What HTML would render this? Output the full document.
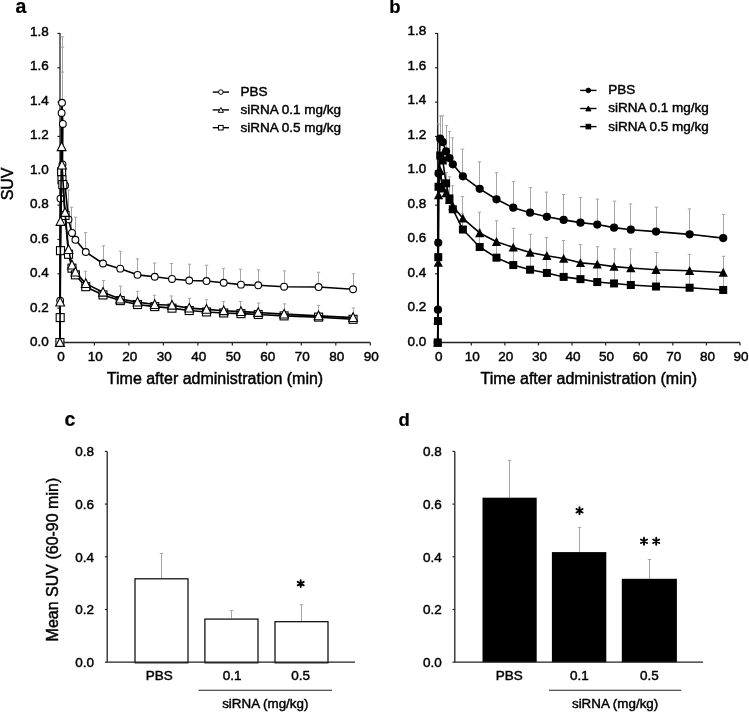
<!DOCTYPE html>
<html><head><meta charset="utf-8"><style>html,body{margin:0;padding:0;background:#fff;width:749px;height:712px;overflow:hidden;position:relative}</style></head><body>
<svg width="749" height="712" viewBox="0 0 749 712" style="position:absolute;left:0;top:0;will-change:transform" font-family='"Liberation Sans", sans-serif' fill="#000">
<rect width="749" height="712" fill="#fff"/>
<style>text{stroke:#000;stroke-width:0.45px;paint-order:normal}</style>
<text x="15.4" y="12.8" font-size="19.5" font-weight="bold" style="stroke-width:0.2px">a</text>
<text x="389.2" y="12.8" font-size="18.5" font-weight="bold" style="stroke-width:0.2px">b</text>
<text x="64.4" y="425.7" font-size="19.5" font-weight="bold" style="stroke-width:0.2px">c</text>
<text x="398.6" y="425.6" font-size="18.5" font-weight="bold" style="stroke-width:0.2px">d</text>
<line x1="60" y1="33" x2="60" y2="342.5" stroke="#222" stroke-width="1.3"/>
<line x1="60" y1="342.5" x2="370.3" y2="342.5" stroke="#222" stroke-width="1.3"/>
<line x1="57.4" y1="342.50" x2="60" y2="342.50" stroke="#222" stroke-width="1.2"/>
<text x="48.8" y="346.35" text-anchor="end" font-size="13.5">0.0</text>
<line x1="57.4" y1="308.16" x2="60" y2="308.16" stroke="#222" stroke-width="1.2"/>
<text x="48.8" y="311.86" text-anchor="end" font-size="13.5">0.2</text>
<line x1="57.4" y1="273.82" x2="60" y2="273.82" stroke="#222" stroke-width="1.2"/>
<text x="48.8" y="277.37" text-anchor="end" font-size="13.5">0.4</text>
<line x1="57.4" y1="239.48" x2="60" y2="239.48" stroke="#222" stroke-width="1.2"/>
<text x="48.8" y="242.88" text-anchor="end" font-size="13.5">0.6</text>
<line x1="57.4" y1="205.14" x2="60" y2="205.14" stroke="#222" stroke-width="1.2"/>
<text x="48.8" y="208.39" text-anchor="end" font-size="13.5">0.8</text>
<line x1="57.4" y1="170.80" x2="60" y2="170.80" stroke="#222" stroke-width="1.2"/>
<text x="48.8" y="173.90" text-anchor="end" font-size="13.5">1.0</text>
<line x1="57.4" y1="136.46" x2="60" y2="136.46" stroke="#222" stroke-width="1.2"/>
<text x="48.8" y="139.41" text-anchor="end" font-size="13.5">1.2</text>
<line x1="57.4" y1="102.12" x2="60" y2="102.12" stroke="#222" stroke-width="1.2"/>
<text x="48.8" y="104.92" text-anchor="end" font-size="13.5">1.4</text>
<line x1="57.4" y1="67.78" x2="60" y2="67.78" stroke="#222" stroke-width="1.2"/>
<text x="48.8" y="70.43" text-anchor="end" font-size="13.5">1.6</text>
<line x1="57.4" y1="33.44" x2="60" y2="33.44" stroke="#222" stroke-width="1.2"/>
<text x="48.8" y="35.94" text-anchor="end" font-size="13.5">1.8</text>
<line x1="59.90" y1="342.5" x2="59.90" y2="345.5" stroke="#222" stroke-width="1.2"/>
<text x="60.90" y="361.3" text-anchor="middle" font-size="13.5">0</text>
<line x1="94.39" y1="342.5" x2="94.39" y2="345.5" stroke="#222" stroke-width="1.2"/>
<text x="95.39" y="361.3" text-anchor="middle" font-size="13.5">10</text>
<line x1="128.88" y1="342.5" x2="128.88" y2="345.5" stroke="#222" stroke-width="1.2"/>
<text x="129.88" y="361.3" text-anchor="middle" font-size="13.5">20</text>
<line x1="163.37" y1="342.5" x2="163.37" y2="345.5" stroke="#222" stroke-width="1.2"/>
<text x="164.37" y="361.3" text-anchor="middle" font-size="13.5">30</text>
<line x1="197.86" y1="342.5" x2="197.86" y2="345.5" stroke="#222" stroke-width="1.2"/>
<text x="198.86" y="361.3" text-anchor="middle" font-size="13.5">40</text>
<line x1="232.34" y1="342.5" x2="232.34" y2="345.5" stroke="#222" stroke-width="1.2"/>
<text x="233.34" y="361.3" text-anchor="middle" font-size="13.5">50</text>
<line x1="266.83" y1="342.5" x2="266.83" y2="345.5" stroke="#222" stroke-width="1.2"/>
<text x="267.83" y="361.3" text-anchor="middle" font-size="13.5">60</text>
<line x1="301.32" y1="342.5" x2="301.32" y2="345.5" stroke="#222" stroke-width="1.2"/>
<text x="302.32" y="361.3" text-anchor="middle" font-size="13.5">70</text>
<line x1="335.81" y1="342.5" x2="335.81" y2="345.5" stroke="#222" stroke-width="1.2"/>
<text x="336.81" y="361.3" text-anchor="middle" font-size="13.5">80</text>
<line x1="370.30" y1="342.5" x2="370.30" y2="345.5" stroke="#222" stroke-width="1.2"/>
<text x="371.30" y="361.3" text-anchor="middle" font-size="13.5">90</text>
<line x1="62.50" y1="36.87" x2="62.50" y2="112.94" stroke="#a6a6a6" stroke-width="1"/>
<line x1="60.80" y1="36.87" x2="64.20" y2="36.87" stroke="#a6a6a6" stroke-width="1"/>
<line x1="62.50" y1="47.18" x2="62.50" y2="102.81" stroke="#a6a6a6" stroke-width="1"/>
<line x1="60.80" y1="47.18" x2="64.20" y2="47.18" stroke="#a6a6a6" stroke-width="1"/>
<line x1="62.50" y1="72.07" x2="62.50" y2="123.93" stroke="#a6a6a6" stroke-width="1"/>
<line x1="60.80" y1="72.07" x2="64.20" y2="72.07" stroke="#a6a6a6" stroke-width="1"/>
<line x1="68.50" y1="190.03" x2="68.50" y2="219.39" stroke="#a6a6a6" stroke-width="1"/>
<line x1="66.80" y1="190.03" x2="70.20" y2="190.03" stroke="#a6a6a6" stroke-width="1"/>
<line x1="71.50" y1="207.20" x2="71.50" y2="232.96" stroke="#a6a6a6" stroke-width="1"/>
<line x1="69.80" y1="207.20" x2="73.20" y2="207.20" stroke="#a6a6a6" stroke-width="1"/>
<line x1="75.50" y1="217.16" x2="75.50" y2="239.82" stroke="#a6a6a6" stroke-width="1"/>
<line x1="73.80" y1="217.16" x2="77.20" y2="217.16" stroke="#a6a6a6" stroke-width="1"/>
<line x1="85.50" y1="232.61" x2="85.50" y2="252.01" stroke="#a6a6a6" stroke-width="1"/>
<line x1="83.80" y1="232.61" x2="87.20" y2="232.61" stroke="#a6a6a6" stroke-width="1"/>
<line x1="103.50" y1="245.83" x2="103.50" y2="263.52" stroke="#a6a6a6" stroke-width="1"/>
<line x1="101.80" y1="245.83" x2="105.20" y2="245.83" stroke="#a6a6a6" stroke-width="1"/>
<line x1="120.50" y1="251.33" x2="120.50" y2="268.67" stroke="#a6a6a6" stroke-width="1"/>
<line x1="118.80" y1="251.33" x2="122.20" y2="251.33" stroke="#a6a6a6" stroke-width="1"/>
<line x1="137.50" y1="258.88" x2="137.50" y2="274.85" stroke="#a6a6a6" stroke-width="1"/>
<line x1="135.80" y1="258.88" x2="139.20" y2="258.88" stroke="#a6a6a6" stroke-width="1"/>
<line x1="154.50" y1="263.00" x2="154.50" y2="276.74" stroke="#a6a6a6" stroke-width="1"/>
<line x1="152.80" y1="263.00" x2="156.20" y2="263.00" stroke="#a6a6a6" stroke-width="1"/>
<line x1="171.50" y1="263.52" x2="171.50" y2="278.97" stroke="#a6a6a6" stroke-width="1"/>
<line x1="169.80" y1="263.52" x2="173.20" y2="263.52" stroke="#a6a6a6" stroke-width="1"/>
<line x1="189.50" y1="264.20" x2="189.50" y2="280.52" stroke="#a6a6a6" stroke-width="1"/>
<line x1="187.80" y1="264.20" x2="191.20" y2="264.20" stroke="#a6a6a6" stroke-width="1"/>
<line x1="206.50" y1="265.24" x2="206.50" y2="281.03" stroke="#a6a6a6" stroke-width="1"/>
<line x1="204.80" y1="265.24" x2="208.20" y2="265.24" stroke="#a6a6a6" stroke-width="1"/>
<line x1="223.50" y1="268.33" x2="223.50" y2="282.75" stroke="#a6a6a6" stroke-width="1"/>
<line x1="221.80" y1="268.33" x2="225.20" y2="268.33" stroke="#a6a6a6" stroke-width="1"/>
<line x1="240.50" y1="269.18" x2="240.50" y2="284.64" stroke="#a6a6a6" stroke-width="1"/>
<line x1="238.80" y1="269.18" x2="242.20" y2="269.18" stroke="#a6a6a6" stroke-width="1"/>
<line x1="258.50" y1="269.87" x2="258.50" y2="285.32" stroke="#a6a6a6" stroke-width="1"/>
<line x1="256.80" y1="269.87" x2="260.20" y2="269.87" stroke="#a6a6a6" stroke-width="1"/>
<line x1="284.50" y1="270.90" x2="284.50" y2="286.70" stroke="#a6a6a6" stroke-width="1"/>
<line x1="282.80" y1="270.90" x2="286.20" y2="270.90" stroke="#a6a6a6" stroke-width="1"/>
<line x1="318.50" y1="272.27" x2="318.50" y2="287.04" stroke="#a6a6a6" stroke-width="1"/>
<line x1="316.80" y1="272.27" x2="320.20" y2="272.27" stroke="#a6a6a6" stroke-width="1"/>
<line x1="353.50" y1="273.82" x2="353.50" y2="289.27" stroke="#a6a6a6" stroke-width="1"/>
<line x1="351.80" y1="273.82" x2="355.20" y2="273.82" stroke="#a6a6a6" stroke-width="1"/>
<line x1="85.50" y1="271.24" x2="85.50" y2="283.61" stroke="#a6a6a6" stroke-width="1"/>
<line x1="83.80" y1="271.24" x2="87.20" y2="271.24" stroke="#a6a6a6" stroke-width="1"/>
<line x1="103.50" y1="280.52" x2="103.50" y2="292.19" stroke="#a6a6a6" stroke-width="1"/>
<line x1="101.80" y1="280.52" x2="105.20" y2="280.52" stroke="#a6a6a6" stroke-width="1"/>
<line x1="120.50" y1="286.18" x2="120.50" y2="299.06" stroke="#a6a6a6" stroke-width="1"/>
<line x1="118.80" y1="286.18" x2="122.20" y2="286.18" stroke="#a6a6a6" stroke-width="1"/>
<line x1="137.50" y1="291.33" x2="137.50" y2="302.15" stroke="#a6a6a6" stroke-width="1"/>
<line x1="135.80" y1="291.33" x2="139.20" y2="291.33" stroke="#a6a6a6" stroke-width="1"/>
<line x1="154.50" y1="295.28" x2="154.50" y2="304.55" stroke="#a6a6a6" stroke-width="1"/>
<line x1="152.80" y1="295.28" x2="156.20" y2="295.28" stroke="#a6a6a6" stroke-width="1"/>
<line x1="171.50" y1="295.97" x2="171.50" y2="305.24" stroke="#a6a6a6" stroke-width="1"/>
<line x1="169.80" y1="295.97" x2="173.20" y2="295.97" stroke="#a6a6a6" stroke-width="1"/>
<line x1="189.50" y1="298.37" x2="189.50" y2="308.16" stroke="#a6a6a6" stroke-width="1"/>
<line x1="187.80" y1="298.37" x2="191.20" y2="298.37" stroke="#a6a6a6" stroke-width="1"/>
<line x1="206.50" y1="299.75" x2="206.50" y2="309.36" stroke="#a6a6a6" stroke-width="1"/>
<line x1="204.80" y1="299.75" x2="208.20" y2="299.75" stroke="#a6a6a6" stroke-width="1"/>
<line x1="223.50" y1="301.64" x2="223.50" y2="310.74" stroke="#a6a6a6" stroke-width="1"/>
<line x1="221.80" y1="301.64" x2="225.20" y2="301.64" stroke="#a6a6a6" stroke-width="1"/>
<line x1="240.50" y1="301.64" x2="240.50" y2="311.59" stroke="#a6a6a6" stroke-width="1"/>
<line x1="238.80" y1="301.64" x2="242.20" y2="301.64" stroke="#a6a6a6" stroke-width="1"/>
<line x1="258.50" y1="303.01" x2="258.50" y2="312.45" stroke="#a6a6a6" stroke-width="1"/>
<line x1="256.80" y1="303.01" x2="260.20" y2="303.01" stroke="#a6a6a6" stroke-width="1"/>
<line x1="284.50" y1="303.87" x2="284.50" y2="314.17" stroke="#a6a6a6" stroke-width="1"/>
<line x1="282.80" y1="303.87" x2="286.20" y2="303.87" stroke="#a6a6a6" stroke-width="1"/>
<line x1="318.50" y1="305.41" x2="318.50" y2="315.89" stroke="#a6a6a6" stroke-width="1"/>
<line x1="316.80" y1="305.41" x2="320.20" y2="305.41" stroke="#a6a6a6" stroke-width="1"/>
<line x1="353.50" y1="307.99" x2="353.50" y2="317.60" stroke="#a6a6a6" stroke-width="1"/>
<line x1="351.80" y1="307.99" x2="355.20" y2="307.99" stroke="#a6a6a6" stroke-width="1"/>
<polyline points="59.90,342.50 60.18,300.61 60.49,198.62 61.62,112.94 61.97,102.81 62.83,123.93 62.49,164.45 65.07,185.57 68.52,219.39 71.97,232.96 75.42,239.82 85.77,252.01 103.01,263.52 120.26,268.67 137.50,274.85 154.74,276.74 171.99,278.97 189.23,280.52 206.48,281.03 223.72,282.75 240.97,284.64 258.21,285.32 284.08,286.70 318.57,287.04 353.06,289.27" fill="none" stroke="#000" stroke-width="1.6" stroke-linejoin="round"/>
<circle cx="59.90" cy="342.50" r="3.4" fill="#fff" stroke="#000" stroke-width="1.1"/>
<circle cx="60.18" cy="300.61" r="3.4" fill="#fff" stroke="#000" stroke-width="1.1"/>
<circle cx="60.49" cy="198.62" r="3.4" fill="#fff" stroke="#000" stroke-width="1.1"/>
<circle cx="61.62" cy="112.94" r="3.4" fill="#fff" stroke="#000" stroke-width="1.1"/>
<circle cx="61.97" cy="102.81" r="3.4" fill="#fff" stroke="#000" stroke-width="1.1"/>
<circle cx="62.83" cy="123.93" r="3.4" fill="#fff" stroke="#000" stroke-width="1.1"/>
<circle cx="62.49" cy="164.45" r="3.4" fill="#fff" stroke="#000" stroke-width="1.1"/>
<circle cx="65.07" cy="185.57" r="3.4" fill="#fff" stroke="#000" stroke-width="1.1"/>
<circle cx="68.52" cy="219.39" r="3.4" fill="#fff" stroke="#000" stroke-width="1.1"/>
<circle cx="71.97" cy="232.96" r="3.4" fill="#fff" stroke="#000" stroke-width="1.1"/>
<circle cx="75.42" cy="239.82" r="3.4" fill="#fff" stroke="#000" stroke-width="1.1"/>
<circle cx="85.77" cy="252.01" r="3.4" fill="#fff" stroke="#000" stroke-width="1.1"/>
<circle cx="103.01" cy="263.52" r="3.4" fill="#fff" stroke="#000" stroke-width="1.1"/>
<circle cx="120.26" cy="268.67" r="3.4" fill="#fff" stroke="#000" stroke-width="1.1"/>
<circle cx="137.50" cy="274.85" r="3.4" fill="#fff" stroke="#000" stroke-width="1.1"/>
<circle cx="154.74" cy="276.74" r="3.4" fill="#fff" stroke="#000" stroke-width="1.1"/>
<circle cx="171.99" cy="278.97" r="3.4" fill="#fff" stroke="#000" stroke-width="1.1"/>
<circle cx="189.23" cy="280.52" r="3.4" fill="#fff" stroke="#000" stroke-width="1.1"/>
<circle cx="206.48" cy="281.03" r="3.4" fill="#fff" stroke="#000" stroke-width="1.1"/>
<circle cx="223.72" cy="282.75" r="3.4" fill="#fff" stroke="#000" stroke-width="1.1"/>
<circle cx="240.97" cy="284.64" r="3.4" fill="#fff" stroke="#000" stroke-width="1.1"/>
<circle cx="258.21" cy="285.32" r="3.4" fill="#fff" stroke="#000" stroke-width="1.1"/>
<circle cx="284.08" cy="286.70" r="3.4" fill="#fff" stroke="#000" stroke-width="1.1"/>
<circle cx="318.57" cy="287.04" r="3.4" fill="#fff" stroke="#000" stroke-width="1.1"/>
<circle cx="353.06" cy="289.27" r="3.4" fill="#fff" stroke="#000" stroke-width="1.1"/>
<polyline points="59.90,342.50 60.18,317.60 60.49,250.64 61.62,171.83 61.97,179.73 62.83,184.54 65.07,215.44 68.52,254.25 71.97,268.15 75.42,274.85 85.77,286.70 103.01,294.94 120.26,300.61 137.50,304.55 154.74,306.61 171.99,308.16 189.23,310.56 206.48,311.94 223.72,312.97 240.97,313.65 258.21,314.51 284.08,315.89 318.57,317.09 353.06,319.32" fill="none" stroke="#000" stroke-width="1.6" stroke-linejoin="round"/>
<rect x="55.90" y="338.50" width="8" height="8" fill="#fff" stroke="#000" stroke-width="1.1"/>
<rect x="56.18" y="313.60" width="8" height="8" fill="#fff" stroke="#000" stroke-width="1.1"/>
<rect x="56.49" y="246.64" width="8" height="8" fill="#fff" stroke="#000" stroke-width="1.1"/>
<rect x="57.62" y="167.83" width="8" height="8" fill="#fff" stroke="#000" stroke-width="1.1"/>
<rect x="57.97" y="175.73" width="8" height="8" fill="#fff" stroke="#000" stroke-width="1.1"/>
<rect x="58.83" y="180.54" width="8" height="8" fill="#fff" stroke="#000" stroke-width="1.1"/>
<rect x="61.07" y="211.44" width="8" height="8" fill="#fff" stroke="#000" stroke-width="1.1"/>
<rect x="64.52" y="250.25" width="8" height="8" fill="#fff" stroke="#000" stroke-width="1.1"/>
<rect x="67.97" y="264.15" width="8" height="8" fill="#fff" stroke="#000" stroke-width="1.1"/>
<rect x="71.42" y="270.85" width="8" height="8" fill="#fff" stroke="#000" stroke-width="1.1"/>
<rect x="81.77" y="282.70" width="8" height="8" fill="#fff" stroke="#000" stroke-width="1.1"/>
<rect x="99.01" y="290.94" width="8" height="8" fill="#fff" stroke="#000" stroke-width="1.1"/>
<rect x="116.26" y="296.61" width="8" height="8" fill="#fff" stroke="#000" stroke-width="1.1"/>
<rect x="133.50" y="300.55" width="8" height="8" fill="#fff" stroke="#000" stroke-width="1.1"/>
<rect x="150.74" y="302.61" width="8" height="8" fill="#fff" stroke="#000" stroke-width="1.1"/>
<rect x="167.99" y="304.16" width="8" height="8" fill="#fff" stroke="#000" stroke-width="1.1"/>
<rect x="185.23" y="306.56" width="8" height="8" fill="#fff" stroke="#000" stroke-width="1.1"/>
<rect x="202.48" y="307.94" width="8" height="8" fill="#fff" stroke="#000" stroke-width="1.1"/>
<rect x="219.72" y="308.97" width="8" height="8" fill="#fff" stroke="#000" stroke-width="1.1"/>
<rect x="236.97" y="309.65" width="8" height="8" fill="#fff" stroke="#000" stroke-width="1.1"/>
<rect x="254.21" y="310.51" width="8" height="8" fill="#fff" stroke="#000" stroke-width="1.1"/>
<rect x="280.08" y="311.89" width="8" height="8" fill="#fff" stroke="#000" stroke-width="1.1"/>
<rect x="314.57" y="313.09" width="8" height="8" fill="#fff" stroke="#000" stroke-width="1.1"/>
<rect x="349.06" y="315.32" width="8" height="8" fill="#fff" stroke="#000" stroke-width="1.1"/>
<polyline points="59.90,342.50 60.18,302.15 60.49,221.45 61.62,146.76 61.97,165.13 65.07,212.52 68.52,249.61 71.97,265.06 75.42,272.10 85.77,283.61 103.01,292.19 120.26,299.06 137.50,302.15 154.74,304.55 171.99,305.24 189.23,308.16 206.48,309.36 223.72,310.74 240.97,311.59 258.21,312.45 284.08,314.17 318.57,315.89 353.06,317.60" fill="none" stroke="#000" stroke-width="1.6" stroke-linejoin="round"/>
<polygon points="59.90,337.70 64.30,346.40 55.50,346.40" fill="#fff" stroke="#000" stroke-width="1.1" stroke-linejoin="miter"/>
<polygon points="60.18,297.35 64.58,306.05 55.78,306.05" fill="#fff" stroke="#000" stroke-width="1.1" stroke-linejoin="miter"/>
<polygon points="60.49,216.65 64.89,225.35 56.09,225.35" fill="#fff" stroke="#000" stroke-width="1.1" stroke-linejoin="miter"/>
<polygon points="61.62,141.96 66.02,150.66 57.22,150.66" fill="#fff" stroke="#000" stroke-width="1.1" stroke-linejoin="miter"/>
<polygon points="61.97,160.33 66.37,169.03 57.57,169.03" fill="#fff" stroke="#000" stroke-width="1.1" stroke-linejoin="miter"/>
<polygon points="65.07,207.72 69.47,216.42 60.67,216.42" fill="#fff" stroke="#000" stroke-width="1.1" stroke-linejoin="miter"/>
<polygon points="68.52,244.81 72.92,253.51 64.12,253.51" fill="#fff" stroke="#000" stroke-width="1.1" stroke-linejoin="miter"/>
<polygon points="71.97,260.26 76.37,268.96 67.57,268.96" fill="#fff" stroke="#000" stroke-width="1.1" stroke-linejoin="miter"/>
<polygon points="75.42,267.30 79.82,276.00 71.02,276.00" fill="#fff" stroke="#000" stroke-width="1.1" stroke-linejoin="miter"/>
<polygon points="85.77,278.81 90.17,287.51 81.37,287.51" fill="#fff" stroke="#000" stroke-width="1.1" stroke-linejoin="miter"/>
<polygon points="103.01,287.39 107.41,296.09 98.61,296.09" fill="#fff" stroke="#000" stroke-width="1.1" stroke-linejoin="miter"/>
<polygon points="120.26,294.26 124.66,302.96 115.86,302.96" fill="#fff" stroke="#000" stroke-width="1.1" stroke-linejoin="miter"/>
<polygon points="137.50,297.35 141.90,306.05 133.10,306.05" fill="#fff" stroke="#000" stroke-width="1.1" stroke-linejoin="miter"/>
<polygon points="154.74,299.75 159.14,308.45 150.34,308.45" fill="#fff" stroke="#000" stroke-width="1.1" stroke-linejoin="miter"/>
<polygon points="171.99,300.44 176.39,309.14 167.59,309.14" fill="#fff" stroke="#000" stroke-width="1.1" stroke-linejoin="miter"/>
<polygon points="189.23,303.36 193.63,312.06 184.83,312.06" fill="#fff" stroke="#000" stroke-width="1.1" stroke-linejoin="miter"/>
<polygon points="206.48,304.56 210.88,313.26 202.08,313.26" fill="#fff" stroke="#000" stroke-width="1.1" stroke-linejoin="miter"/>
<polygon points="223.72,305.94 228.12,314.64 219.32,314.64" fill="#fff" stroke="#000" stroke-width="1.1" stroke-linejoin="miter"/>
<polygon points="240.97,306.79 245.37,315.49 236.57,315.49" fill="#fff" stroke="#000" stroke-width="1.1" stroke-linejoin="miter"/>
<polygon points="258.21,307.65 262.61,316.35 253.81,316.35" fill="#fff" stroke="#000" stroke-width="1.1" stroke-linejoin="miter"/>
<polygon points="284.08,309.37 288.48,318.07 279.68,318.07" fill="#fff" stroke="#000" stroke-width="1.1" stroke-linejoin="miter"/>
<polygon points="318.57,311.09 322.97,319.79 314.17,319.79" fill="#fff" stroke="#000" stroke-width="1.1" stroke-linejoin="miter"/>
<polygon points="353.06,312.80 357.46,321.50 348.66,321.50" fill="#fff" stroke="#000" stroke-width="1.1" stroke-linejoin="miter"/>
<line x1="212.7" y1="92.10" x2="229" y2="92.10" stroke="#000" stroke-width="1.4"/>
<circle cx="220.85" cy="92.10" r="2.3" fill="#fff" stroke="#000" stroke-width="1"/>
<text x="240.5" y="96.00" font-size="13.5">PBS</text>
<line x1="212.7" y1="109.90" x2="229" y2="109.90" stroke="#000" stroke-width="1.4"/>
<polygon points="220.85,107.50 223.45,112.30 218.25,112.30" fill="#fff" stroke="#000" stroke-width="1"/>
<text x="240.5" y="113.80" font-size="13.5">siRNA 0.1 mg/kg</text>
<line x1="212.7" y1="127.70" x2="229" y2="127.70" stroke="#000" stroke-width="1.4"/>
<rect x="218.55" y="125.40" width="4.6" height="4.6" fill="#fff" stroke="#000" stroke-width="1"/>
<text x="240.5" y="131.60" font-size="13.5">siRNA 0.5 mg/kg</text>
<line x1="437.6" y1="33" x2="437.6" y2="342.5" stroke="#222" stroke-width="1.3"/>
<line x1="437.6" y1="342.5" x2="740.0" y2="342.5" stroke="#222" stroke-width="1.3"/>
<line x1="435.0" y1="342.50" x2="437.6" y2="342.50" stroke="#222" stroke-width="1.2"/>
<text x="426.40000000000003" y="345.55" text-anchor="end" font-size="13.5">0.0</text>
<line x1="435.0" y1="308.16" x2="437.6" y2="308.16" stroke="#222" stroke-width="1.2"/>
<text x="426.40000000000003" y="311.06" text-anchor="end" font-size="13.5">0.2</text>
<line x1="435.0" y1="273.82" x2="437.6" y2="273.82" stroke="#222" stroke-width="1.2"/>
<text x="426.40000000000003" y="276.57" text-anchor="end" font-size="13.5">0.4</text>
<line x1="435.0" y1="239.48" x2="437.6" y2="239.48" stroke="#222" stroke-width="1.2"/>
<text x="426.40000000000003" y="242.08" text-anchor="end" font-size="13.5">0.6</text>
<line x1="435.0" y1="205.14" x2="437.6" y2="205.14" stroke="#222" stroke-width="1.2"/>
<text x="426.40000000000003" y="207.59" text-anchor="end" font-size="13.5">0.8</text>
<line x1="435.0" y1="170.80" x2="437.6" y2="170.80" stroke="#222" stroke-width="1.2"/>
<text x="426.40000000000003" y="173.10" text-anchor="end" font-size="13.5">1.0</text>
<line x1="435.0" y1="136.46" x2="437.6" y2="136.46" stroke="#222" stroke-width="1.2"/>
<text x="426.40000000000003" y="138.61" text-anchor="end" font-size="13.5">1.2</text>
<line x1="435.0" y1="102.12" x2="437.6" y2="102.12" stroke="#222" stroke-width="1.2"/>
<text x="426.40000000000003" y="104.12" text-anchor="end" font-size="13.5">1.4</text>
<line x1="435.0" y1="67.78" x2="437.6" y2="67.78" stroke="#222" stroke-width="1.2"/>
<text x="426.40000000000003" y="69.63" text-anchor="end" font-size="13.5">1.6</text>
<line x1="435.0" y1="33.44" x2="437.6" y2="33.44" stroke="#222" stroke-width="1.2"/>
<text x="426.40000000000003" y="35.14" text-anchor="end" font-size="13.5">1.8</text>
<line x1="437.70" y1="342.5" x2="437.70" y2="345.5" stroke="#222" stroke-width="1.2"/>
<text x="438.70" y="361.3" text-anchor="middle" font-size="13.5">0</text>
<line x1="471.29" y1="342.5" x2="471.29" y2="345.5" stroke="#222" stroke-width="1.2"/>
<text x="472.29" y="361.3" text-anchor="middle" font-size="13.5">10</text>
<line x1="504.88" y1="342.5" x2="504.88" y2="345.5" stroke="#222" stroke-width="1.2"/>
<text x="505.88" y="361.3" text-anchor="middle" font-size="13.5">20</text>
<line x1="538.47" y1="342.5" x2="538.47" y2="345.5" stroke="#222" stroke-width="1.2"/>
<text x="539.47" y="361.3" text-anchor="middle" font-size="13.5">30</text>
<line x1="572.06" y1="342.5" x2="572.06" y2="345.5" stroke="#222" stroke-width="1.2"/>
<text x="573.06" y="361.3" text-anchor="middle" font-size="13.5">40</text>
<line x1="605.64" y1="342.5" x2="605.64" y2="345.5" stroke="#222" stroke-width="1.2"/>
<text x="606.64" y="361.3" text-anchor="middle" font-size="13.5">50</text>
<line x1="639.23" y1="342.5" x2="639.23" y2="345.5" stroke="#222" stroke-width="1.2"/>
<text x="640.23" y="361.3" text-anchor="middle" font-size="13.5">60</text>
<line x1="672.82" y1="342.5" x2="672.82" y2="345.5" stroke="#222" stroke-width="1.2"/>
<text x="673.82" y="361.3" text-anchor="middle" font-size="13.5">70</text>
<line x1="706.41" y1="342.5" x2="706.41" y2="345.5" stroke="#222" stroke-width="1.2"/>
<text x="707.41" y="361.3" text-anchor="middle" font-size="13.5">80</text>
<line x1="740.00" y1="342.5" x2="740.00" y2="345.5" stroke="#222" stroke-width="1.2"/>
<text x="741.00" y="361.3" text-anchor="middle" font-size="13.5">90</text>
<line x1="440.50" y1="115.86" x2="440.50" y2="138.69" stroke="#a6a6a6" stroke-width="1"/>
<line x1="438.80" y1="115.86" x2="442.20" y2="115.86" stroke="#a6a6a6" stroke-width="1"/>
<line x1="442.50" y1="115.86" x2="442.50" y2="142.13" stroke="#a6a6a6" stroke-width="1"/>
<line x1="440.80" y1="115.86" x2="444.20" y2="115.86" stroke="#a6a6a6" stroke-width="1"/>
<line x1="438.50" y1="124.10" x2="438.50" y2="173.38" stroke="#a6a6a6" stroke-width="1"/>
<line x1="436.80" y1="124.10" x2="440.20" y2="124.10" stroke="#a6a6a6" stroke-width="1"/>
<line x1="446.50" y1="125.81" x2="446.50" y2="151.40" stroke="#a6a6a6" stroke-width="1"/>
<line x1="444.80" y1="125.81" x2="448.20" y2="125.81" stroke="#a6a6a6" stroke-width="1"/>
<line x1="449.50" y1="131.48" x2="449.50" y2="158.09" stroke="#a6a6a6" stroke-width="1"/>
<line x1="447.80" y1="131.48" x2="451.20" y2="131.48" stroke="#a6a6a6" stroke-width="1"/>
<line x1="452.50" y1="137.83" x2="452.50" y2="164.28" stroke="#a6a6a6" stroke-width="1"/>
<line x1="450.80" y1="137.83" x2="454.20" y2="137.83" stroke="#a6a6a6" stroke-width="1"/>
<line x1="462.50" y1="149.17" x2="462.50" y2="176.29" stroke="#a6a6a6" stroke-width="1"/>
<line x1="460.80" y1="149.17" x2="464.20" y2="149.17" stroke="#a6a6a6" stroke-width="1"/>
<line x1="479.50" y1="161.87" x2="479.50" y2="188.83" stroke="#a6a6a6" stroke-width="1"/>
<line x1="477.80" y1="161.87" x2="481.20" y2="161.87" stroke="#a6a6a6" stroke-width="1"/>
<line x1="496.50" y1="172.69" x2="496.50" y2="199.30" stroke="#a6a6a6" stroke-width="1"/>
<line x1="494.80" y1="172.69" x2="498.20" y2="172.69" stroke="#a6a6a6" stroke-width="1"/>
<line x1="513.50" y1="181.62" x2="513.50" y2="207.72" stroke="#a6a6a6" stroke-width="1"/>
<line x1="511.80" y1="181.62" x2="515.20" y2="181.62" stroke="#a6a6a6" stroke-width="1"/>
<line x1="530.50" y1="187.63" x2="530.50" y2="212.69" stroke="#a6a6a6" stroke-width="1"/>
<line x1="528.80" y1="187.63" x2="532.20" y2="187.63" stroke="#a6a6a6" stroke-width="1"/>
<line x1="546.50" y1="192.09" x2="546.50" y2="216.82" stroke="#a6a6a6" stroke-width="1"/>
<line x1="544.80" y1="192.09" x2="548.20" y2="192.09" stroke="#a6a6a6" stroke-width="1"/>
<line x1="563.50" y1="194.49" x2="563.50" y2="219.91" stroke="#a6a6a6" stroke-width="1"/>
<line x1="561.80" y1="194.49" x2="565.20" y2="194.49" stroke="#a6a6a6" stroke-width="1"/>
<line x1="580.50" y1="197.41" x2="580.50" y2="222.65" stroke="#a6a6a6" stroke-width="1"/>
<line x1="578.80" y1="197.41" x2="582.20" y2="197.41" stroke="#a6a6a6" stroke-width="1"/>
<line x1="597.50" y1="199.13" x2="597.50" y2="224.54" stroke="#a6a6a6" stroke-width="1"/>
<line x1="595.80" y1="199.13" x2="599.20" y2="199.13" stroke="#a6a6a6" stroke-width="1"/>
<line x1="614.50" y1="201.19" x2="614.50" y2="227.63" stroke="#a6a6a6" stroke-width="1"/>
<line x1="612.80" y1="201.19" x2="616.20" y2="201.19" stroke="#a6a6a6" stroke-width="1"/>
<line x1="630.50" y1="203.94" x2="630.50" y2="229.69" stroke="#a6a6a6" stroke-width="1"/>
<line x1="628.80" y1="203.94" x2="632.20" y2="203.94" stroke="#a6a6a6" stroke-width="1"/>
<line x1="656.50" y1="207.20" x2="656.50" y2="231.58" stroke="#a6a6a6" stroke-width="1"/>
<line x1="654.80" y1="207.20" x2="658.20" y2="207.20" stroke="#a6a6a6" stroke-width="1"/>
<line x1="689.50" y1="208.92" x2="689.50" y2="234.33" stroke="#a6a6a6" stroke-width="1"/>
<line x1="687.80" y1="208.92" x2="691.20" y2="208.92" stroke="#a6a6a6" stroke-width="1"/>
<line x1="723.50" y1="214.41" x2="723.50" y2="238.11" stroke="#a6a6a6" stroke-width="1"/>
<line x1="721.80" y1="214.41" x2="725.20" y2="214.41" stroke="#a6a6a6" stroke-width="1"/>
<line x1="446.50" y1="172.52" x2="446.50" y2="193.12" stroke="#a6a6a6" stroke-width="1"/>
<line x1="444.80" y1="172.52" x2="448.20" y2="172.52" stroke="#a6a6a6" stroke-width="1"/>
<line x1="449.50" y1="176.81" x2="449.50" y2="199.82" stroke="#a6a6a6" stroke-width="1"/>
<line x1="447.80" y1="176.81" x2="451.20" y2="176.81" stroke="#a6a6a6" stroke-width="1"/>
<line x1="452.50" y1="185.74" x2="452.50" y2="206.17" stroke="#a6a6a6" stroke-width="1"/>
<line x1="450.80" y1="185.74" x2="454.20" y2="185.74" stroke="#a6a6a6" stroke-width="1"/>
<line x1="462.50" y1="196.56" x2="462.50" y2="218.36" stroke="#a6a6a6" stroke-width="1"/>
<line x1="460.80" y1="196.56" x2="464.20" y2="196.56" stroke="#a6a6a6" stroke-width="1"/>
<line x1="479.50" y1="212.18" x2="479.50" y2="232.96" stroke="#a6a6a6" stroke-width="1"/>
<line x1="477.80" y1="212.18" x2="481.20" y2="212.18" stroke="#a6a6a6" stroke-width="1"/>
<line x1="496.50" y1="220.76" x2="496.50" y2="241.71" stroke="#a6a6a6" stroke-width="1"/>
<line x1="494.80" y1="220.76" x2="498.20" y2="220.76" stroke="#a6a6a6" stroke-width="1"/>
<line x1="513.50" y1="228.32" x2="513.50" y2="247.38" stroke="#a6a6a6" stroke-width="1"/>
<line x1="511.80" y1="228.32" x2="515.20" y2="228.32" stroke="#a6a6a6" stroke-width="1"/>
<line x1="530.50" y1="234.33" x2="530.50" y2="252.53" stroke="#a6a6a6" stroke-width="1"/>
<line x1="528.80" y1="234.33" x2="532.20" y2="234.33" stroke="#a6a6a6" stroke-width="1"/>
<line x1="546.50" y1="237.42" x2="546.50" y2="255.79" stroke="#a6a6a6" stroke-width="1"/>
<line x1="544.80" y1="237.42" x2="548.20" y2="237.42" stroke="#a6a6a6" stroke-width="1"/>
<line x1="563.50" y1="240.51" x2="563.50" y2="258.54" stroke="#a6a6a6" stroke-width="1"/>
<line x1="561.80" y1="240.51" x2="565.20" y2="240.51" stroke="#a6a6a6" stroke-width="1"/>
<line x1="580.50" y1="244.63" x2="580.50" y2="262.83" stroke="#a6a6a6" stroke-width="1"/>
<line x1="578.80" y1="244.63" x2="582.20" y2="244.63" stroke="#a6a6a6" stroke-width="1"/>
<line x1="597.50" y1="246.69" x2="597.50" y2="264.20" stroke="#a6a6a6" stroke-width="1"/>
<line x1="595.80" y1="246.69" x2="599.20" y2="246.69" stroke="#a6a6a6" stroke-width="1"/>
<line x1="614.50" y1="248.92" x2="614.50" y2="266.61" stroke="#a6a6a6" stroke-width="1"/>
<line x1="612.80" y1="248.92" x2="616.20" y2="248.92" stroke="#a6a6a6" stroke-width="1"/>
<line x1="630.50" y1="248.92" x2="630.50" y2="267.98" stroke="#a6a6a6" stroke-width="1"/>
<line x1="628.80" y1="248.92" x2="632.20" y2="248.92" stroke="#a6a6a6" stroke-width="1"/>
<line x1="656.50" y1="252.53" x2="656.50" y2="269.70" stroke="#a6a6a6" stroke-width="1"/>
<line x1="654.80" y1="252.53" x2="658.20" y2="252.53" stroke="#a6a6a6" stroke-width="1"/>
<line x1="689.50" y1="254.42" x2="689.50" y2="270.73" stroke="#a6a6a6" stroke-width="1"/>
<line x1="687.80" y1="254.42" x2="691.20" y2="254.42" stroke="#a6a6a6" stroke-width="1"/>
<line x1="723.50" y1="256.31" x2="723.50" y2="272.45" stroke="#a6a6a6" stroke-width="1"/>
<line x1="721.80" y1="256.31" x2="725.20" y2="256.31" stroke="#a6a6a6" stroke-width="1"/>
<line x1="462.50" y1="213.73" x2="462.50" y2="229.52" stroke="#a6a6a6" stroke-width="1"/>
<line x1="460.80" y1="213.73" x2="464.20" y2="213.73" stroke="#a6a6a6" stroke-width="1"/>
<line x1="479.50" y1="229.18" x2="479.50" y2="247.03" stroke="#a6a6a6" stroke-width="1"/>
<line x1="477.80" y1="229.18" x2="481.20" y2="229.18" stroke="#a6a6a6" stroke-width="1"/>
<line x1="496.50" y1="239.48" x2="496.50" y2="257.68" stroke="#a6a6a6" stroke-width="1"/>
<line x1="494.80" y1="239.48" x2="498.20" y2="239.48" stroke="#a6a6a6" stroke-width="1"/>
<line x1="513.50" y1="246.35" x2="513.50" y2="265.06" stroke="#a6a6a6" stroke-width="1"/>
<line x1="511.80" y1="246.35" x2="515.20" y2="246.35" stroke="#a6a6a6" stroke-width="1"/>
<line x1="530.50" y1="251.50" x2="530.50" y2="269.70" stroke="#a6a6a6" stroke-width="1"/>
<line x1="528.80" y1="251.50" x2="532.20" y2="251.50" stroke="#a6a6a6" stroke-width="1"/>
<line x1="546.50" y1="254.93" x2="546.50" y2="272.96" stroke="#a6a6a6" stroke-width="1"/>
<line x1="544.80" y1="254.93" x2="548.20" y2="254.93" stroke="#a6a6a6" stroke-width="1"/>
<line x1="563.50" y1="258.37" x2="563.50" y2="276.91" stroke="#a6a6a6" stroke-width="1"/>
<line x1="561.80" y1="258.37" x2="565.20" y2="258.37" stroke="#a6a6a6" stroke-width="1"/>
<line x1="580.50" y1="261.80" x2="580.50" y2="279.14" stroke="#a6a6a6" stroke-width="1"/>
<line x1="578.80" y1="261.80" x2="582.20" y2="261.80" stroke="#a6a6a6" stroke-width="1"/>
<line x1="597.50" y1="263.52" x2="597.50" y2="282.06" stroke="#a6a6a6" stroke-width="1"/>
<line x1="595.80" y1="263.52" x2="599.20" y2="263.52" stroke="#a6a6a6" stroke-width="1"/>
<line x1="614.50" y1="265.24" x2="614.50" y2="283.44" stroke="#a6a6a6" stroke-width="1"/>
<line x1="612.80" y1="265.24" x2="616.20" y2="265.24" stroke="#a6a6a6" stroke-width="1"/>
<line x1="630.50" y1="266.95" x2="630.50" y2="284.98" stroke="#a6a6a6" stroke-width="1"/>
<line x1="628.80" y1="266.95" x2="632.20" y2="266.95" stroke="#a6a6a6" stroke-width="1"/>
<line x1="656.50" y1="268.67" x2="656.50" y2="286.53" stroke="#a6a6a6" stroke-width="1"/>
<line x1="654.80" y1="268.67" x2="658.20" y2="268.67" stroke="#a6a6a6" stroke-width="1"/>
<line x1="689.50" y1="270.39" x2="689.50" y2="287.73" stroke="#a6a6a6" stroke-width="1"/>
<line x1="687.80" y1="270.39" x2="691.20" y2="270.39" stroke="#a6a6a6" stroke-width="1"/>
<line x1="723.50" y1="272.10" x2="723.50" y2="289.96" stroke="#a6a6a6" stroke-width="1"/>
<line x1="721.80" y1="272.10" x2="725.20" y2="272.10" stroke="#a6a6a6" stroke-width="1"/>
<polyline points="437.70,342.50 437.97,309.71 438.27,242.74 438.54,173.38 440.22,138.69 442.74,142.13 446.10,151.40 449.46,158.09 452.81,164.28 462.89,176.29 479.69,188.83 496.48,199.30 513.27,207.72 530.07,212.69 546.86,216.82 563.66,219.91 580.45,222.65 597.25,224.54 614.04,227.63 630.84,229.69 656.03,231.58 689.62,234.33 723.21,238.11" fill="none" stroke="#000" stroke-width="1.6" stroke-linejoin="round"/>
<circle cx="437.70" cy="342.50" r="4.1" fill="#000"/>
<circle cx="437.97" cy="309.71" r="4.1" fill="#000"/>
<circle cx="438.27" cy="242.74" r="4.1" fill="#000"/>
<circle cx="438.54" cy="173.38" r="4.1" fill="#000"/>
<circle cx="440.22" cy="138.69" r="4.1" fill="#000"/>
<circle cx="442.74" cy="142.13" r="4.1" fill="#000"/>
<circle cx="446.10" cy="151.40" r="4.1" fill="#000"/>
<circle cx="449.46" cy="158.09" r="4.1" fill="#000"/>
<circle cx="452.81" cy="164.28" r="4.1" fill="#000"/>
<circle cx="462.89" cy="176.29" r="4.1" fill="#000"/>
<circle cx="479.69" cy="188.83" r="4.1" fill="#000"/>
<circle cx="496.48" cy="199.30" r="4.1" fill="#000"/>
<circle cx="513.27" cy="207.72" r="4.1" fill="#000"/>
<circle cx="530.07" cy="212.69" r="4.1" fill="#000"/>
<circle cx="546.86" cy="216.82" r="4.1" fill="#000"/>
<circle cx="563.66" cy="219.91" r="4.1" fill="#000"/>
<circle cx="580.45" cy="222.65" r="4.1" fill="#000"/>
<circle cx="597.25" cy="224.54" r="4.1" fill="#000"/>
<circle cx="614.04" cy="227.63" r="4.1" fill="#000"/>
<circle cx="630.84" cy="229.69" r="4.1" fill="#000"/>
<circle cx="656.03" cy="231.58" r="4.1" fill="#000"/>
<circle cx="689.62" cy="234.33" r="4.1" fill="#000"/>
<circle cx="723.21" cy="238.11" r="4.1" fill="#000"/>
<polyline points="437.70,342.50 437.97,321.04 438.27,257.17 438.54,186.77 440.22,155.52 442.74,160.50 446.10,183.33 449.46,198.44 452.81,209.26 462.89,229.52 479.69,247.03 496.48,257.68 513.27,265.06 530.07,269.70 546.86,272.96 563.66,276.91 580.45,279.14 597.25,282.06 614.04,283.44 630.84,284.98 656.03,286.53 689.62,287.73 723.21,289.96" fill="none" stroke="#000" stroke-width="1.6" stroke-linejoin="round"/>
<rect x="433.70" y="338.50" width="8" height="8" fill="#000"/>
<rect x="433.97" y="317.04" width="8" height="8" fill="#000"/>
<rect x="434.27" y="253.17" width="8" height="8" fill="#000"/>
<rect x="434.54" y="182.77" width="8" height="8" fill="#000"/>
<rect x="436.22" y="151.52" width="8" height="8" fill="#000"/>
<rect x="438.74" y="156.50" width="8" height="8" fill="#000"/>
<rect x="442.10" y="179.33" width="8" height="8" fill="#000"/>
<rect x="445.46" y="194.44" width="8" height="8" fill="#000"/>
<rect x="448.81" y="205.26" width="8" height="8" fill="#000"/>
<rect x="458.89" y="225.52" width="8" height="8" fill="#000"/>
<rect x="475.69" y="243.03" width="8" height="8" fill="#000"/>
<rect x="492.48" y="253.68" width="8" height="8" fill="#000"/>
<rect x="509.27" y="261.06" width="8" height="8" fill="#000"/>
<rect x="526.07" y="265.70" width="8" height="8" fill="#000"/>
<rect x="542.86" y="268.96" width="8" height="8" fill="#000"/>
<rect x="559.66" y="272.91" width="8" height="8" fill="#000"/>
<rect x="576.45" y="275.14" width="8" height="8" fill="#000"/>
<rect x="593.25" y="278.06" width="8" height="8" fill="#000"/>
<rect x="610.04" y="279.44" width="8" height="8" fill="#000"/>
<rect x="626.84" y="280.98" width="8" height="8" fill="#000"/>
<rect x="652.03" y="282.53" width="8" height="8" fill="#000"/>
<rect x="685.62" y="283.73" width="8" height="8" fill="#000"/>
<rect x="719.21" y="285.96" width="8" height="8" fill="#000"/>
<polyline points="437.70,342.50 437.97,320.01 438.27,262.66 438.54,195.01 440.22,170.80 442.74,188.31 446.10,193.12 449.46,199.82 452.81,206.17 462.89,218.36 479.69,232.96 496.48,241.71 513.27,247.38 530.07,252.53 546.86,255.79 563.66,258.54 580.45,262.83 597.25,264.20 614.04,266.61 630.84,267.98 656.03,269.70 689.62,270.73 723.21,272.45" fill="none" stroke="#000" stroke-width="1.6" stroke-linejoin="round"/>
<polygon points="437.70,337.80 442.30,346.70 433.10,346.70" fill="#000"/>
<polygon points="437.97,315.31 442.57,324.21 433.37,324.21" fill="#000"/>
<polygon points="438.27,257.96 442.87,266.86 433.67,266.86" fill="#000"/>
<polygon points="438.54,190.31 443.14,199.21 433.94,199.21" fill="#000"/>
<polygon points="440.22,166.10 444.82,175.00 435.62,175.00" fill="#000"/>
<polygon points="442.74,183.61 447.34,192.51 438.14,192.51" fill="#000"/>
<polygon points="446.10,188.42 450.70,197.32 441.50,197.32" fill="#000"/>
<polygon points="449.46,195.12 454.06,204.02 444.86,204.02" fill="#000"/>
<polygon points="452.81,201.47 457.42,210.37 448.21,210.37" fill="#000"/>
<polygon points="462.89,213.66 467.49,222.56 458.29,222.56" fill="#000"/>
<polygon points="479.69,228.26 484.29,237.16 475.09,237.16" fill="#000"/>
<polygon points="496.48,237.01 501.08,245.91 491.88,245.91" fill="#000"/>
<polygon points="513.27,242.68 517.88,251.58 508.67,251.58" fill="#000"/>
<polygon points="530.07,247.83 534.67,256.73 525.47,256.73" fill="#000"/>
<polygon points="546.86,251.09 551.46,259.99 542.26,259.99" fill="#000"/>
<polygon points="563.66,253.84 568.26,262.74 559.06,262.74" fill="#000"/>
<polygon points="580.45,258.13 585.05,267.03 575.85,267.03" fill="#000"/>
<polygon points="597.25,259.50 601.85,268.40 592.65,268.40" fill="#000"/>
<polygon points="614.04,261.91 618.64,270.81 609.44,270.81" fill="#000"/>
<polygon points="630.84,263.28 635.44,272.18 626.24,272.18" fill="#000"/>
<polygon points="656.03,265.00 660.63,273.90 651.43,273.90" fill="#000"/>
<polygon points="689.62,266.03 694.22,274.93 685.02,274.93" fill="#000"/>
<polygon points="723.21,267.75 727.81,276.65 718.61,276.65" fill="#000"/>
<line x1="580.2" y1="90.40" x2="596.5" y2="90.40" stroke="#000" stroke-width="1.4"/>
<circle cx="588.35" cy="90.40" r="2.3" fill="#000" stroke="#000" stroke-width="1"/>
<text x="608.3" y="94.30" font-size="13.5">PBS</text>
<line x1="580.2" y1="108.50" x2="596.5" y2="108.50" stroke="#000" stroke-width="1.4"/>
<polygon points="588.35,106.10 590.95,110.90 585.75,110.90" fill="#000" stroke="#000" stroke-width="1"/>
<text x="608.3" y="112.40" font-size="13.5">siRNA 0.1 mg/kg</text>
<line x1="580.2" y1="126.60" x2="596.5" y2="126.60" stroke="#000" stroke-width="1.4"/>
<rect x="586.05" y="124.30" width="4.6" height="4.6" fill="#000" stroke="#000" stroke-width="1"/>
<text x="608.3" y="130.50" font-size="13.5">siRNA 0.5 mg/kg</text>
<text x="215" y="384.3" text-anchor="middle" font-size="16">Time after administration (min)</text>
<text x="588.8" y="384.3" text-anchor="middle" font-size="16">Time after administration (min)</text>
<text transform="translate(13.2,183.9) rotate(-90)" text-anchor="middle" font-size="16">SUV</text>
<text transform="translate(57.7,559.6) rotate(-90)" text-anchor="middle" font-size="16">Mean SUV (60-90 min)</text>
<line x1="104.9" y1="662.20" x2="107.2" y2="662.20" stroke="#222" stroke-width="1.2"/>
<text x="94.10000000000001" y="667.00" text-anchor="end" font-size="13.5">0.0</text>
<line x1="104.9" y1="609.50" x2="107.2" y2="609.50" stroke="#222" stroke-width="1.2"/>
<text x="94.10000000000001" y="614.30" text-anchor="end" font-size="13.5">0.2</text>
<line x1="104.9" y1="556.80" x2="107.2" y2="556.80" stroke="#222" stroke-width="1.2"/>
<text x="94.10000000000001" y="561.60" text-anchor="end" font-size="13.5">0.4</text>
<line x1="104.9" y1="504.10" x2="107.2" y2="504.10" stroke="#222" stroke-width="1.2"/>
<text x="94.10000000000001" y="508.90" text-anchor="end" font-size="13.5">0.6</text>
<line x1="104.9" y1="451.40" x2="107.2" y2="451.40" stroke="#222" stroke-width="1.2"/>
<text x="94.10000000000001" y="456.20" text-anchor="end" font-size="13.5">0.8</text>
<line x1="161.50" y1="553.5" x2="161.50" y2="578.2" stroke="#a6a6a6" stroke-width="1"/>
<line x1="159.80" y1="553.5" x2="163.20" y2="553.5" stroke="#a6a6a6" stroke-width="1"/>
<rect x="135.0" y="578.8000000000001" width="52.999999999999986" height="84.0" fill="#fff" stroke="#000" stroke-width="1.2"/>
<line x1="231.50" y1="610.5" x2="231.50" y2="618.5" stroke="#a6a6a6" stroke-width="1"/>
<line x1="229.80" y1="610.5" x2="233.20" y2="610.5" stroke="#a6a6a6" stroke-width="1"/>
<rect x="204.9" y="619.1" width="53.10000000000001" height="43.700000000000045" fill="#fff" stroke="#000" stroke-width="1.2"/>
<line x1="301.50" y1="604.7" x2="301.50" y2="621.1" stroke="#a6a6a6" stroke-width="1"/>
<line x1="299.80" y1="604.7" x2="303.20" y2="604.7" stroke="#a6a6a6" stroke-width="1"/>
<rect x="275.0" y="621.7" width="53.00000000000004" height="41.10000000000002" fill="#fff" stroke="#000" stroke-width="1.2"/>
<line x1="107.2" y1="451.4" x2="107.2" y2="662.2" stroke="#222" stroke-width="1.3"/>
<line x1="107.2" y1="662.2" x2="355" y2="662.2" stroke="#222" stroke-width="1.3"/>
<text x="159.3" y="680.3" text-anchor="middle" font-size="13.5">PBS</text>
<text x="232.1" y="680.3" text-anchor="middle" font-size="13.5">0.1</text>
<text x="300.6" y="680.3" text-anchor="middle" font-size="13.5">0.5</text>
<line x1="198.5" y1="690.2" x2="332.1" y2="690.2" stroke="#222" stroke-width="1.1"/>
<text x="265.3" y="707.5" text-anchor="middle" font-size="13.4">siRNA (mg/kg)</text>
<path d="M300.70,580.10V587.10M297.67,581.85L303.73,585.35M297.67,585.35L303.73,581.85" stroke="#000" stroke-width="1.9" stroke-linecap="round" fill="none"/>
<line x1="452.5" y1="662.20" x2="454.8" y2="662.20" stroke="#222" stroke-width="1.2"/>
<text x="441.7" y="667.00" text-anchor="end" font-size="13.5">0.0</text>
<line x1="452.5" y1="609.50" x2="454.8" y2="609.50" stroke="#222" stroke-width="1.2"/>
<text x="441.7" y="614.30" text-anchor="end" font-size="13.5">0.2</text>
<line x1="452.5" y1="556.80" x2="454.8" y2="556.80" stroke="#222" stroke-width="1.2"/>
<text x="441.7" y="561.60" text-anchor="end" font-size="13.5">0.4</text>
<line x1="452.5" y1="504.10" x2="454.8" y2="504.10" stroke="#222" stroke-width="1.2"/>
<text x="441.7" y="508.90" text-anchor="end" font-size="13.5">0.6</text>
<line x1="452.5" y1="451.40" x2="454.8" y2="451.40" stroke="#222" stroke-width="1.2"/>
<text x="441.7" y="456.20" text-anchor="end" font-size="13.5">0.8</text>
<line x1="509.50" y1="460.4" x2="509.50" y2="497.7" stroke="#a6a6a6" stroke-width="1"/>
<line x1="507.80" y1="460.4" x2="511.20" y2="460.4" stroke="#a6a6a6" stroke-width="1"/>
<rect x="482.5" y="497.7" width="54.200000000000045" height="164.50000000000006" fill="#000"/>
<line x1="579.50" y1="527.4" x2="579.50" y2="552.1" stroke="#a6a6a6" stroke-width="1"/>
<line x1="577.80" y1="527.4" x2="581.20" y2="527.4" stroke="#a6a6a6" stroke-width="1"/>
<rect x="551.9" y="552.1" width="54.39999999999998" height="110.10000000000002" fill="#000"/>
<line x1="649.50" y1="559.5" x2="649.50" y2="578.8" stroke="#a6a6a6" stroke-width="1"/>
<line x1="647.80" y1="559.5" x2="651.20" y2="559.5" stroke="#a6a6a6" stroke-width="1"/>
<rect x="621.8" y="578.8" width="55.10000000000002" height="83.40000000000009" fill="#000"/>
<line x1="454.8" y1="451.4" x2="454.8" y2="662.2" stroke="#222" stroke-width="1.3"/>
<line x1="454.8" y1="662.2" x2="703" y2="662.2" stroke="#222" stroke-width="1.3"/>
<text x="509.2" y="680.3" text-anchor="middle" font-size="13.5">PBS</text>
<text x="579.3" y="680.3" text-anchor="middle" font-size="13.5">0.1</text>
<text x="649.4" y="680.3" text-anchor="middle" font-size="13.5">0.5</text>
<line x1="548.9" y1="690.2" x2="681.3" y2="690.2" stroke="#222" stroke-width="1.1"/>
<text x="615.0999999999999" y="707.5" text-anchor="middle" font-size="13.4">siRNA (mg/kg)</text>
<path d="M579.50,507.20V514.20M576.47,508.95L582.53,512.45M576.47,512.45L582.53,508.95" stroke="#000" stroke-width="1.9" stroke-linecap="round" fill="none"/>
<path d="M644.00,537.70V544.70M640.97,539.45L647.03,542.95M640.97,542.95L647.03,539.45" stroke="#000" stroke-width="1.9" stroke-linecap="round" fill="none"/>
<path d="M656.20,537.70V544.70M653.17,539.45L659.23,542.95M653.17,542.95L659.23,539.45" stroke="#000" stroke-width="1.9" stroke-linecap="round" fill="none"/>
</svg>
</body></html>
